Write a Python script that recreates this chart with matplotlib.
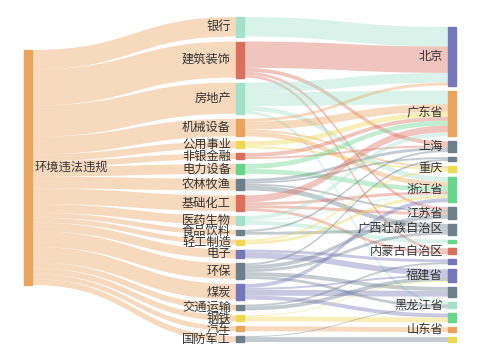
import matplotlib
matplotlib.use('Agg')
import matplotlib.pyplot as plt
from matplotlib.path import Path
from matplotlib.patches import PathPatch, Rectangle

plt.rcParams['font.family'] = ['Noto Sans CJK SC', 'DejaVu Sans']

# 数据
root = '环境违法违规'
industries = ['银行', '建筑装饰', '房地产', '机械设备', '公用事业', '非银金融', '电力设备',
              '农林牧渔', '基础化工', '医药生物', '食品饮料', '轻工制造', '电子', '环保',
              '煤炭', '交通运输', '钢铁', '汽车', '国防军工']
regions = ['北京', '广东省', '上海', '', '重庆', '浙江省', '江苏省', '广西壮族自治区', '',
           '内蒙古自治区', '', '福建省', '', '黑龙江省', '', '山东省', '']

# 行业 -> 地区 (地区用序号, 部分地区无标签)
link_src = ['银行',
            '建筑装饰', '建筑装饰', '建筑装饰', '建筑装饰',
            '房地产', '房地产', '房地产', '房地产',
            '机械设备', '机械设备', '机械设备', '机械设备',
            '公用事业', '公用事业',
            '非银金融', '非银金融',
            '电力设备', '电力设备',
            '农林牧渔', '农林牧渔', '农林牧渔', '农林牧渔',
            '基础化工', '基础化工', '基础化工', '基础化工',
            '医药生物', '医药生物', '医药生物',
            '食品饮料', '食品饮料',
            '轻工制造', '轻工制造',
            '电子', '电子',
            '环保', '环保', '环保', '环保', '环保',
            '煤炭', '煤炭', '煤炭', '煤炭',
            '交通运输', '交通运输',
            '钢铁', '钢铁',
            '汽车',
            '国防军工', '国防军工']
link_dst = [0,
            0, 2, 6, 9,
            0, 1, 5, 13,
            0, 1, 5, 4,
            1, 4,
            1, 2,
            1, 5,
            2, 7, 3, 6,
            1, 5, 6, 9,
            1, 5, 8,
            7, 2,
            5, 4,
            11, 10,
            6, 7, 13, 12, 3,
            5, 12, 14, 11,
            11, 10,
            14, 11,
            15,
            16, 13]
link_val = [20,
            27, 4, 3, 3,
            10, 14, 5, 3,
            3, 8, 5, 2,
            5, 2,
            4, 2,
            5, 5,
            3, 5, 2, 2,
            7, 3, 3, 3,
            4, 1, 4,
            3, 2,
            3, 2,
            6, 3,
            4, 3, 3, 4, 2,
            4, 6, 4, 2,
            4, 2,
            5, 1,
            5,
            5, 1]

# 颜色
orange, mint, red, yellow = '#eba45e', '#a3e1cb', '#d8705c', '#efd94f'
green, gray, purple = '#66d68b', '#6d7f8b', '#7676ba'
root_color = orange
industry_colors = [mint, red, mint, orange, yellow, red, green, gray, red, mint, gray,
                   yellow, purple, gray, purple, gray, yellow, orange, gray]
region_colors = [purple, orange, gray, gray, yellow, green, gray, gray, green, red,
                 purple, purple, gray, mint, green, orange, yellow]

# 布局参数
top, bottom = 17, 342
node_w, gap = 8, 5
col_x = [24, 236, 448]

ind_idx = {n: i for i, n in enumerate(industries)}
src_i = [ind_idx[s] for s in link_src]
ind_val = [0.0] * len(industries)
reg_val = [0.0] * len(regions)
for s, d, v in zip(src_i, link_dst, link_val):
    ind_val[s] += v
    reg_val[d] += v
total = sum(ind_val)

ky = min((bottom - top - (len(industries) - 1) * gap) / total,
         (bottom - top - (len(regions) - 1) * gap) / total)

# 中间列: 自上而下排列
ind_h = [v * ky for v in ind_val]
ind_y = []
y = top
for h in ind_h:
    ind_y.append(y)
    y += h + gap
ind_c = [y0 + h / 2 for y0, h in zip(ind_y, ind_h)]

# 左列: 以目标加权中心定位
root_h = total * ky
root_c = sum(c * v for c, v in zip(ind_c, ind_val)) / total
root_y = root_c - root_h / 2

# 右列: 以来源加权中心定位, 再消除重叠
reg_h = [v * ky for v in reg_val]
reg_y = []
for j in range(len(regions)):
    w = [(ind_c[s], v) for s, d, v in zip(src_i, link_dst, link_val) if d == j]
    c = sum(a * b for a, b in w) / sum(b for _, b in w)
    reg_y.append(c - reg_h[j] / 2)
for j in range(len(regions)):
    lo = top if j == 0 else reg_y[j - 1] + reg_h[j - 1] + gap
    reg_y[j] = max(reg_y[j], lo)
for j in range(len(regions) - 1, -1, -1):
    hi = bottom - reg_h[j] if j == len(regions) - 1 else reg_y[j + 1] - gap - reg_h[j]
    reg_y[j] = min(reg_y[j], hi)
reg_c = [y0 + h / 2 for y0, h in zip(reg_y, reg_h)]

fig = plt.figure(figsize=(4.8, 3.6), dpi=100)
ax = fig.add_axes([0, 0, 1, 1])
ax.set_xlim(0, 480)
ax.set_ylim(360, 0)
ax.axis('off')


def band(x0, y0a, y0b, x1, y1a, y1b, color):
    xm = (x0 + x1) / 2
    verts = [(x0, y0a), (xm, y0a), (xm, y1a), (x1, y1a),
             (x1, y1b), (xm, y1b), (xm, y0b), (x0, y0b), (x0, y0a)]
    codes = [Path.MOVETO, Path.CURVE4, Path.CURVE4, Path.CURVE4,
             Path.LINETO, Path.CURVE4, Path.CURVE4, Path.CURVE4, Path.CLOSEPOLY]
    ax.add_patch(PathPatch(Path(verts, codes), facecolor=color, alpha=0.4,
                           edgecolor='none', zorder=1))


# 左 -> 中 连线
y = root_y
for i in sorted(range(len(industries)), key=lambda k: ind_c[k]):
    h = ind_h[i]
    band(col_x[0] + node_w, y, y + h, col_x[1], ind_y[i], ind_y[i] + h, root_color)
    y += h

# 中 -> 右 连线
out_off = list(ind_y)
in_off = list(reg_y)
order_src = sorted(range(len(link_val)), key=lambda k: (src_i[k], reg_c[link_dst[k]]))
src_pos = {}
for k in order_src:
    s = src_i[k]
    src_pos[k] = out_off[s]
    out_off[s] += link_val[k] * ky
order_dst = sorted(range(len(link_val)), key=lambda k: (link_dst[k], ind_c[src_i[k]]))
dst_pos = {}
for k in order_dst:
    d = link_dst[k]
    dst_pos[k] = in_off[d]
    in_off[d] += link_val[k] * ky
for k in range(len(link_val)):
    h = link_val[k] * ky
    band(col_x[1] + node_w, src_pos[k], src_pos[k] + h,
         col_x[2], dst_pos[k], dst_pos[k] + h, industry_colors[src_i[k]])

# 节点
ax.add_patch(Rectangle((col_x[0], root_y), node_w, root_h, color=root_color, zorder=3))
ax.text(col_x[0] + node_w + 3, root_c, root, ha='left', va='center',
        fontsize=8.8, color='#333333', zorder=4)
for i, name in enumerate(industries):
    ax.add_patch(Rectangle((col_x[1], ind_y[i]), node_w, ind_h[i],
                           color=industry_colors[i], zorder=3))
    ax.text(col_x[1] - 5, ind_c[i], name, ha='right', va='center',
            fontsize=8.8, color='#333333', zorder=4)
for j, name in enumerate(regions):
    ax.add_patch(Rectangle((col_x[2], reg_y[j]), node_w, reg_h[j],
                           color=region_colors[j], zorder=3))
    if name:
        ax.text(col_x[2] - 5, reg_c[j], name, ha='right', va='center',
                fontsize=8.8, color='#333333', zorder=4)

fig.savefig('out.png', dpi=100)
